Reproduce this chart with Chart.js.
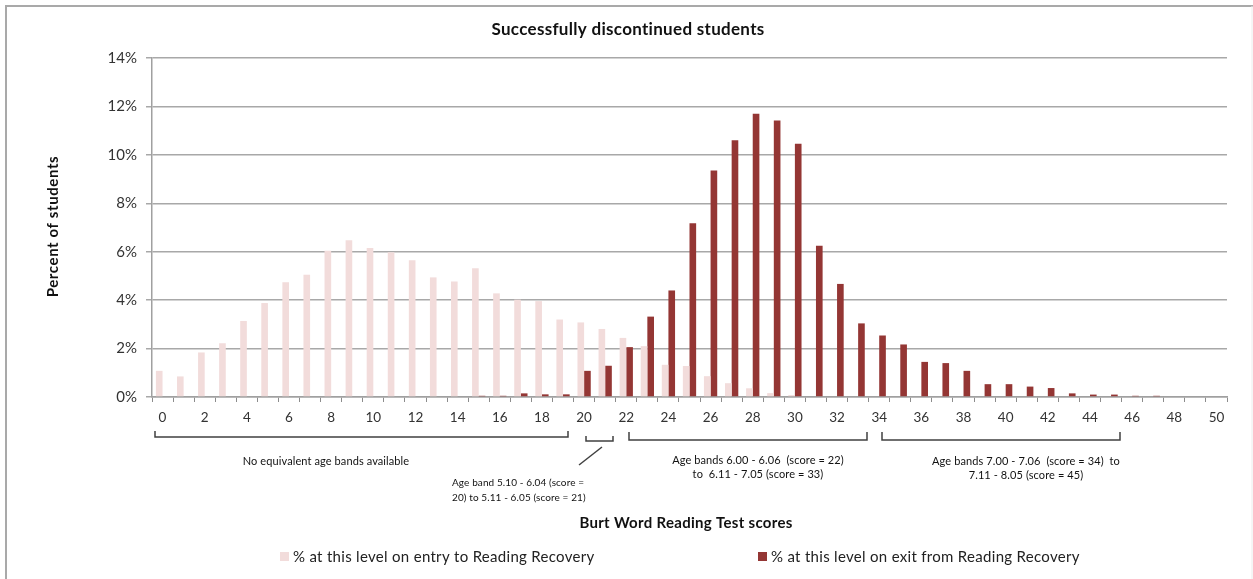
<!DOCTYPE html>
<html>
<head>
<meta charset="utf-8">
<script src="https://cdn.jsdelivr.net/npm/chart.js@4/dist/chart.umd.min.js"></script>
<style>
    html, body { margin: 0; padding: 0; background: #fff; }
    #wrap { width: 1253px; height: 579px; position: relative; }
</style>
</head>
<body>
<div id="wrap"><canvas id="BurtChart"></canvas></div>
<script>
// Burt Word Reading Test scores
var puntajes = [0, 1, 2, 3, 4, 5, 6, 7, 8, 9, 10, 11, 12, 13, 14, 15, 16, 17, 18, 19, 20,
    21, 22, 23, 24, 25, 26, 27, 28, 29, 30, 31, 32, 33, 34, 35, 36, 37, 38, 39, 40,
    41, 42, 43, 44, 45, 46, 47, 48, 49, 50];

// % on entry (pink)
var entrada = [1.08, 0.85, 1.84, 2.22, 3.14, 3.88, 4.74, 5.05, 6.04, 6.47, 6.15,
    5.98, 5.65, 4.94, 4.77, 5.32, 4.28, 4.02, 3.96, 3.20, 3.08,
    2.81, 2.44, 2.10, 1.33, 1.28, 0.86, 0.57, 0.36, 0.16, 0.08,
    0, 0, 0, 0, 0, 0, 0, 0, 0, 0,
    0, 0, 0, 0, 0, 0, 0, 0, 0, 0];

// % on exit (dark red)
var salida = [0, 0, 0, 0, 0, 0, 0, 0, 0, 0, 0,
    0, 0, 0, 0, 0.05, 0.05, 0.15, 0.11, 0.11, 1.08,
    1.29, 2.06, 3.32, 4.40, 7.18, 9.35, 10.60, 11.70, 11.42, 10.46,
    6.25, 4.67, 3.04, 2.54, 2.17, 1.45, 1.40, 1.08, 0.53, 0.53,
    0.43, 0.37, 0.15, 0.10, 0.10, 0.05, 0.05, 0, 0, 0];

var ticksY = [0, 2, 4, 6, 8, 10, 12, 14];

var fuente = 'Lato, "Liberation Sans", sans-serif';

// brackets under the x axis with their notes
var bandas = [
    { x1: 155, x2: 568, y: 437, ext: 6, size: 11, lineas: ['No equivalent age bands available'], tx: 326, ty: 461, align: 'center' },
    { x1: 586, x2: 613, y: 441, ext: 5, size: 10, lineas: ['Age band 5.10 - 6.04 (score =', '20) to 5.11 - 6.05 (score = 21)'], tx: 452, ty: 483, align: 'left' },
    { x1: 629, x2: 867, y: 440, ext: 8, size: 11, lineas: ['Age bands 6.00 - 6.06  (score = 22)', 'to  6.11 - 7.05 (score = 33)'], tx: 758, ty: 460, align: 'center' },
    { x1: 882, x2: 1120, y: 440, ext: 8, size: 11, lineas: ['Age bands 7.00 - 7.06  (score = 34)  to', '7.11 - 8.05 (score = 45)'], tx: 1026, ty: 461, align: 'center' }
];

var extras = {
    id: 'extras',
    afterDraw: function (chart) {
        var c = chart.ctx;
        var area = chart.chartArea;
        c.save();

        // outer frame
        c.strokeStyle = '#a9a9a9';
        c.lineWidth = 2;
        c.beginPath();
        c.moveTo(6, 579);
        c.lineTo(6, 6);
        c.lineTo(1253, 6);
        c.stroke();
        c.strokeStyle = '#ececec';
        c.lineWidth = 1;
        c.beginPath();
        c.moveTo(1252, 6);
        c.lineTo(1252, 579);
        c.stroke();

        c.fillStyle = '#111';
        c.textBaseline = 'middle';

        // title
        c.textAlign = 'center';
        c.letterSpacing = '0.3px';
        c.font = 'bold 17px ' + fuente;
        c.fillText('Successfully discontinued students', 628, 30);

        // axis titles
        c.font = 'bold 15px ' + fuente;
        c.fillText('Burt Word Reading Test scores', 686, 523);
        c.save();
        c.translate(53, (area.top + area.bottom) / 2 - 1);
        c.rotate(-Math.PI / 2);
        c.letterSpacing = '0.6px';
        c.font = 'bold 15px ' + fuente;
        c.fillText('Percent of students', 0, 0);
        c.restore();

        // brackets and notes
        c.strokeStyle = '#404040';
        c.lineWidth = 1.5;
        c.letterSpacing = '0.1px';
        bandas.forEach(function (b) {
            c.beginPath();
            c.moveTo(b.x1, b.y - b.ext);
            c.lineTo(b.x1, b.y);
            c.lineTo(b.x2, b.y);
            c.lineTo(b.x2, b.y - b.ext);
            c.stroke();
            c.font = b.size + 'px ' + fuente;
            c.textAlign = b.align;
            b.lineas.forEach(function (t, i) {
                c.fillText(t, b.tx, b.ty + i * 14.5);
            });
        });
        c.beginPath();
        c.moveTo(602, 447);
        c.lineTo(579, 465);
        c.stroke();

        // legend
        c.font = '15px ' + fuente;
        c.letterSpacing = '0.3px';
        c.textAlign = 'left';
        var pos = [280, 758];
        chart.data.datasets.forEach(function (ds, i) {
            c.fillStyle = ds.backgroundColor;
            c.fillRect(pos[i], 552, 9, 9);
            c.fillStyle = '#222';
            c.fillText(ds.label, pos[i] + 13, 557);
        });

        c.restore();
    }
};

var ctx = document.getElementById('BurtChart').getContext('2d');

var burtChart = new Chart(ctx, {
    type: 'bar',
    data: {
        labels: puntajes,
        datasets: [{
            label: '% at this level on entry to Reading Recovery',
            data: entrada,
            backgroundColor: '#f2dcdb',
            borderWidth: 0,
            categoryPercentage: 0.63,
            barPercentage: 1.0
        },
        {
            label: '% at this level on exit from Reading Recovery',
            data: salida,
            backgroundColor: '#943634',
            borderWidth: 0,
            categoryPercentage: 0.63,
            barPercentage: 1.0
        }]
    },
    options: {
        responsive: true,
        maintainAspectRatio: false,
        animation: false,
        layout: {
            padding: { top: 58, right: 26, left: 0, bottom: 0 }
        },
        scales: {
            x: {
                afterFit: function (scale) { scale.height = 182; },
                grid: {
                    display: true,
                    drawOnChartArea: false,
                    drawTicks: true,
                    tickLength: 5,
                    color: '#8c8c8c',
                    lineWidth: 1
                },
                border: { color: '#a0a0a0', width: 1.5 },
                ticks: {
                    autoSkip: false,
                    maxRotation: 0,
                    padding: 8,
                    color: '#333',
                    font: { family: fuente, size: 13.5 },
                    callback: function (val, idx) {
                        return idx % 2 === 0 ? String(puntajes[idx]) : '';
                    }
                }
            },
            y: {
                min: ticksY[0],
                max: ticksY[ticksY.length - 1],
                afterFit: function (scale) { scale.width = 152; },
                afterBuildTicks: function (scale) {
                    scale.ticks = ticksY.map(function (v) { return { value: v }; });
                },
                grid: {
                    color: '#a8a8a8',
                    lineWidth: 1.5,
                    tickLength: 6
                },
                border: { color: '#a0a0a0', width: 1.5 },
                ticks: {
                    padding: 9,
                    color: '#333',
                    font: { family: fuente, size: 15 },
                    callback: function (v) { return v + '%'; }
                }
            }
        },
        plugins: {
            legend: { display: false },
            title: { display: false },
            tooltip: { enabled: false }
        }
    },
    plugins: [extras]
});
</script>
</body>
</html>
